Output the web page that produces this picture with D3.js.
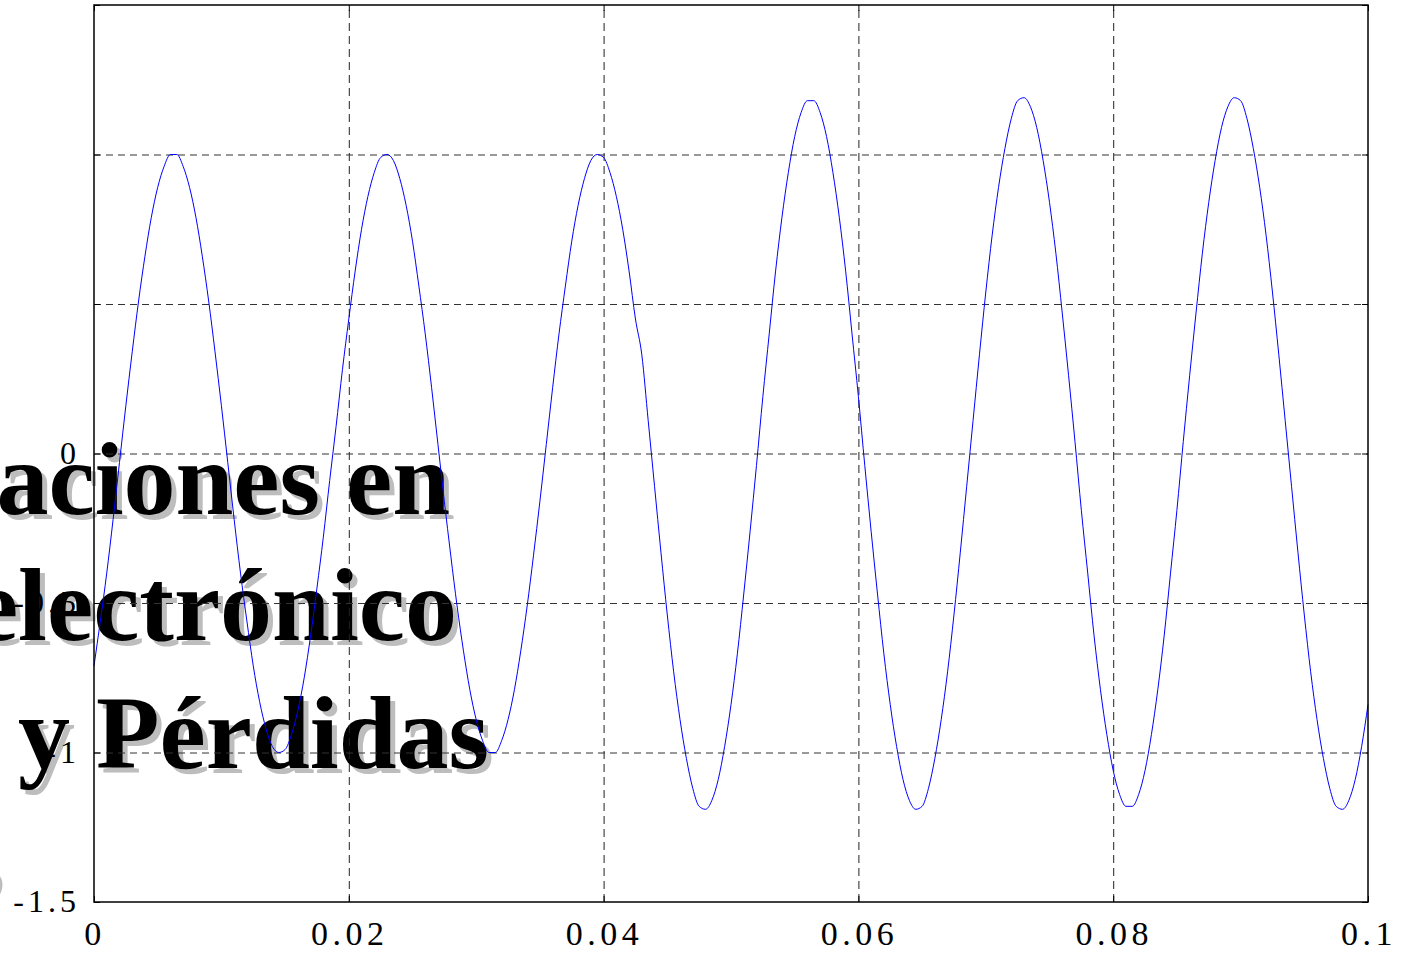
<!DOCTYPE html>
<html>
<head>
<meta charset="utf-8">
<script src="https://cdn.jsdelivr.net/npm/d3@7"></script>
<style>
  html, body { margin: 0; padding: 0; background: #fff; }
  svg { display: block; }
</style>
</head>
<body>
<div id="chart"></div>
<script>
// sampled waveform, one value every 0.5 ms from t = 0 to t = 0.1 s
const sampleStep = 0.0005;
const signal = [
  -0.71, -0.56, -0.40, -0.22, -0.03, 0.16, 0.34, 0.51, 0.66, 0.79,
  0.89, 0.96, 1.00, 1.00, 0.96, 0.89, 0.79, 0.66, 0.51, 0.34,
  0.16, -0.03, -0.22, -0.40, -0.56, -0.71, -0.83, -0.92, -0.98, -1.00,
  -0.99, -0.94, -0.86, -0.75, -0.61, -0.45, -0.28, -0.09, 0.09, 0.28,
  0.45, 0.61, 0.75, 0.86, 0.94, 0.99, 1.00, 0.98, 0.92, 0.83,
  0.71, 0.56, 0.40, 0.22, 0.03, -0.16, -0.34, -0.51, -0.66, -0.79,
  -0.89, -0.96, -1.00, -1.00, -0.96, -0.89, -0.79, -0.66, -0.51, -0.34,
  -0.16, 0.03, 0.22, 0.40, 0.56, 0.71, 0.83, 0.92, 0.98, 1.00,
  0.99, 0.94, 0.86, 0.75, 0.61, 0.45, 0.33, 0.11, -0.11, -0.33,
  -0.54, -0.73, -0.89, -1.02, -1.12, -1.18, -1.19, -1.16, -1.09, -0.98,
  -0.84, -0.67, -0.47, -0.26, -0.04, 0.19, 0.40, 0.61, 0.79, 0.94,
  1.06, 1.14, 1.18, 1.18, 1.14, 1.06, 0.94, 0.79, 0.61, 0.40,
  0.19, -0.04, -0.26, -0.47, -0.67, -0.84, -0.98, -1.09, -1.16, -1.19,
  -1.18, -1.12, -1.02, -0.89, -0.73, -0.54, -0.33, -0.11, 0.11, 0.33,
  0.54, 0.73, 0.89, 1.02, 1.12, 1.18, 1.19, 1.16, 1.09, 0.98,
  0.84, 0.67, 0.47, 0.26, 0.04, -0.19, -0.40, -0.61, -0.79, -0.94,
  -1.06, -1.14, -1.18, -1.18, -1.14, -1.06, -0.94, -0.79, -0.61, -0.40,
  -0.19, 0.04, 0.26, 0.47, 0.67, 0.84, 0.98, 1.09, 1.16, 1.19,
  1.18, 1.12, 1.02, 0.89, 0.73, 0.54, 0.33, 0.11, -0.11, -0.33,
  -0.54, -0.73, -0.89, -1.02, -1.12, -1.18, -1.19, -1.16, -1.09, -0.98,
  -0.84
];

const xTicks = [0, 0.02, 0.04, 0.06, 0.08, 0.1];
const xTickLabels = ['0', '0.02', '0.04', '0.06', '0.08', '0.1'];
const yTicks = [-1.5, -1, -0.5, 0, 0.5, 1, 1.5];
const yLabelTicks = [-1.5, -1, -0.5, 0];
const yTickLabels = ['-1.5', '-1', '-0.5', '0'];

// slide text lying behind the plot
const overlayLines = ['aciones en', 'electrónico', 'y Pérdidas', 's'];

const width = 1405;
const height = 953;
const margin = { top: 5, right: 37, bottom: 51, left: 94 };

const svg = d3.select('#chart')
  .append('svg')
  .attr('width', width)
  .attr('height', height);

svg.append('rect')
  .attr('width', width)
  .attr('height', height)
  .attr('fill', '#fff');

// big bold title text with a grey drop shadow
const titleFont = '"Liberation Serif", "Times New Roman", serif';
const lineEnds = [450, 457, 489, 0];
const lineBase = [514, 640, 768, 895];

const overlay = svg.append('g');
overlayLines.forEach((txt, i) => {
  overlay.append('text')
    .attr('x', lineEnds[i] + 5)
    .attr('y', lineBase[i] + 5)
    .attr('text-anchor', 'end')
    .style('font-family', titleFont)
    .style('font-weight', 'bold')
    .style('font-size', '104px')
    .attr('fill', '#bdbdbd')
    .text(txt);
  overlay.append('text')
    .attr('x', lineEnds[i])
    .attr('y', lineBase[i])
    .attr('text-anchor', 'end')
    .style('font-family', titleFont)
    .style('font-weight', 'bold')
    .style('font-size', '104px')
    .attr('fill', '#000')
    .text(txt);
});

const x = d3.scaleLinear()
  .domain([0, 0.1])
  .range([margin.left, width - margin.right]);

const y = d3.scaleLinear()
  .domain([-1.5, 1.5])
  .range([height - margin.bottom, margin.top]);

const plotW = width - margin.left - margin.right;
const plotH = height - margin.top - margin.bottom;

// grid
svg.append('g')
  .attr('transform', `translate(0,${height - margin.bottom})`)
  .call(d3.axisBottom(x).tickValues(xTicks.slice(1, -1)).tickSize(-plotH).tickFormat(''))
  .call(g => g.select('.domain').remove())
  .selectAll('line')
  .attr('stroke', '#222')
  .attr('stroke-dasharray', '8,5');

svg.append('g')
  .attr('transform', `translate(${margin.left},0)`)
  .call(d3.axisLeft(y).tickValues(yTicks.slice(1, -1)).tickSize(-plotW).tickFormat(''))
  .call(g => g.select('.domain').remove())
  .selectAll('line')
  .attr('stroke', '#333')
  .attr('stroke-dasharray', '7,5');

// waveform
const line = d3.line()
  .x((d, i) => x(i * sampleStep))
  .y(d => y(d))
  .curve(d3.curveMonotoneX);

svg.append('path')
  .datum(signal)
  .attr('fill', 'none')
  .attr('stroke', '#0000ff')
  .attr('stroke-width', 1)
  .attr('d', line);

// inward tick marks on all four sides
const tickLen = 6;
svg.append('g')
  .attr('transform', `translate(0,${height - margin.bottom})`)
  .call(d3.axisBottom(x).tickValues(xTicks).tickSize(-tickLen).tickFormat(''))
  .call(g => g.select('.domain').remove());
svg.append('g')
  .attr('transform', `translate(0,${margin.top})`)
  .call(d3.axisTop(x).tickValues(xTicks).tickSize(-tickLen).tickFormat(''))
  .call(g => g.select('.domain').remove());
svg.append('g')
  .attr('transform', `translate(${margin.left},0)`)
  .call(d3.axisLeft(y).tickValues(yTicks).tickSize(-tickLen).tickFormat(''))
  .call(g => g.select('.domain').remove());
svg.append('g')
  .attr('transform', `translate(${width - margin.right},0)`)
  .call(d3.axisRight(y).tickValues(yTicks).tickSize(-tickLen).tickFormat(''))
  .call(g => g.select('.domain').remove());

// frame
svg.append('rect')
  .attr('x', margin.left)
  .attr('y', margin.top)
  .attr('width', plotW)
  .attr('height', plotH)
  .attr('fill', 'none')
  .attr('stroke', '#000')
  .attr('stroke-width', 1.5);

// tick labels
const labelFont = '"Liberation Serif", "Times New Roman", serif';
svg.append('g')
  .selectAll('text')
  .data(xTicks)
  .join('text')
  .attr('x', d => x(d) + 1)
  .attr('y', 945)
  .attr('text-anchor', 'middle')
  .style('font-family', labelFont)
  .style('font-size', '34px')
  .style('letter-spacing', '4.5px')
  .attr('fill', '#000')
  .text((d, i) => xTickLabels[i]);

svg.append('g')
  .selectAll('text')
  .data(yLabelTicks)
  .join('text')
  .attr('x', margin.left - 18 + 4)
  .attr('y', d => y(d) + 10)
  .attr('text-anchor', 'end')
  .style('font-family', labelFont)
  .style('font-size', '32px')
  .style('letter-spacing', '4px')
  .attr('fill', '#000')
  .text((d, i) => yTickLabels[i]);
</script>
</body>
</html>
